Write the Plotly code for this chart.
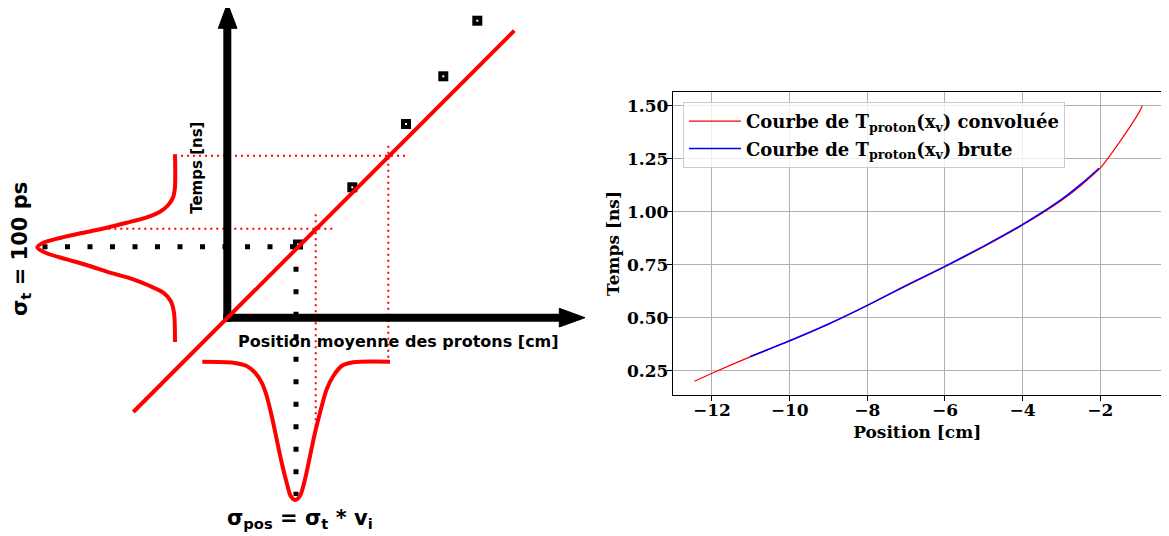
import plotly.graph_objects as go

# ---------------- Right panel data ----------------
pos_conv = [-12.45, -12.0, -11.0, -10.0, -9.0, -8.0, -7.0, -6.0, -5.0, -4.0, -3.0, -2.5, -2.0, -1.5, -1.0, -0.92]
t_conv = [0.200, 0.238, 0.316, 0.390, 0.469, 0.557, 0.650, 0.740, 0.835, 0.937, 1.053, 1.124, 1.207, 1.330, 1.470, 1.500]
pos_brute = [-11.02, -10.0, -9.0, -8.0, -7.0, -6.0, -5.0, -4.0, -3.0, -2.5, -2.03]
t_brute = [0.316, 0.391, 0.470, 0.558, 0.652, 0.742, 0.838, 0.940, 1.058, 1.130, 1.205]
x_ticks = [-12, -10, -8, -6, -4, -2]
x_tick_labels = ["\u221212", "\u221210", "\u22128", "\u22126", "\u22124", "\u22122"]
y_ticks = [0.25, 0.50, 0.75, 1.00, 1.25, 1.50]
y_tick_labels = ["0.25", "0.50", "0.75", "1.00", "1.25", "1.50"]
legend_conv = "Courbe de T<sub>proton</sub>(x<sub>v</sub>) convoluée"
legend_brute = "Courbe de T<sub>proton</sub>(x<sub>v</sub>) brute"

# ---------------- Left schematic data (pixel-like units) ----------------
diag_x = [133.3, 514.3]
diag_y = [412.0, 30.7]
square_x = [298.0, 352.3, 406.0, 443.3, 477.3]
square_y = [244.5, 187.3, 124.0, 76.3, 20.7]
vaxis_x = [227.3, 227.3]
vaxis_y = [321.7, 27.0]
haxis_x = [223.3, 561.0]
haxis_y = [317.7, 317.7]
varrow_x = [227.5, 218.3, 237.0, 227.5]
varrow_y = [3.3, 28.3, 28.3, 3.3]
harrow_x = [585.0, 559.3, 559.3, 585.0]
harrow_y = [317.7, 308.3, 327.0, 317.7]
gauss_t_x = [175, 175, 173.3, 168.3, 160, 146.7, 126.7, 106.7, 83.3, 60, 43.3, 37.3,
             46.7, 66.7, 88, 110, 133.3, 150, 163.3, 170.7, 174, 175]
gauss_t_y = [154.3, 186.7, 196.7, 205, 211.7, 217.3, 222.7, 227.7, 232.7, 238, 242.7, 247.3,
             253.3, 259.3, 265.5, 272.7, 279.3, 286, 292.7, 301, 312.7, 342]
gauss_p_x = [202.3, 233.3, 246.7, 255, 261.7, 266.7, 271.7, 276.7, 281.7, 286.7, 290.7, 295,
             300, 305, 310, 315, 320, 326.7, 333.3, 341.7, 353.3, 390]
gauss_p_y = [361.7, 362.7, 366, 372.7, 382.7, 396, 416, 439.3, 462.7, 482.7, 496, 500,
             496, 479.3, 456, 432.7, 412.7, 389.3, 376, 366, 362.3, 361.7]
red_h_upper_x = [175.0, 406.7]
red_h_upper_y = [155.7, 155.7]
red_h_lower_x = [108.3, 334.3]
red_h_lower_y = [228.7, 228.7]
red_v_left_x = [315.7, 315.7]
red_v_left_y = [214.3, 429.3]
red_v_right_x = [388.3, 388.3]
red_v_right_y = [145.7, 361.7]
blk_h_x = [42.5, 300.0]
blk_h_y = [246.7, 246.7]
blk_v_x = [296.0, 296.0]
blk_v_y = [244.2, 496.0]

# The page body has an 8px margin: the figure starts at (8, 8) in the window.
OFF = 8
W, H = 1169 - OFF, 536 - OFF


def px_x(p):
    return (p - OFF) / W


def px_y(p):
    return 1 - (p - OFF) / H


fig = go.Figure()


def add_left(**kw):
    kw.setdefault("mode", "lines")
    fig.add_trace(go.Scatter(xaxis="x2", yaxis="y2", showlegend=False, hoverinfo="skip", **kw))


RED = "#ff0000"
for xs, ys in [(red_h_upper_x, red_h_upper_y), (red_h_lower_x, red_h_lower_y),
               (red_v_left_x, red_v_left_y), (red_v_right_x, red_v_right_y)]:
    add_left(x=xs, y=ys, line=dict(color=RED, width=2, dash="2px,4px"))
add_left(x=blk_h_x, y=blk_h_y, line=dict(color="black", width=5, dash="5px,17.5px"))
add_left(x=blk_v_x, y=blk_v_y, line=dict(color="black", width=5, dash="5px,17.5px"))
add_left(x=gauss_t_x, y=gauss_t_y, line=dict(color=RED, width=4, shape="spline", smoothing=0.8))
add_left(x=gauss_p_x, y=gauss_p_y, line=dict(color=RED, width=4, shape="spline", smoothing=0.8))
add_left(x=vaxis_x, y=vaxis_y, line=dict(color="black", width=8))
add_left(x=haxis_x, y=haxis_y, line=dict(color="black", width=8))
add_left(x=varrow_x, y=varrow_y, fill="toself", fillcolor="black", line=dict(color="black", width=1))
add_left(x=harrow_x, y=harrow_y, fill="toself", fillcolor="black", line=dict(color="black", width=1))
add_left(x=square_x, y=square_y, mode="markers",
         marker=dict(symbol="square", size=10, color="black", line=dict(width=0)))
add_left(x=square_x, y=square_y, mode="markers",
         marker=dict(symbol="square", size=2, color="white", line=dict(width=0)))
add_left(x=diag_x, y=diag_y, line=dict(color=RED, width=4))

# ---------------- Right panel ----------------
fig.add_trace(go.Scatter(x=pos_conv, y=t_conv, mode="lines", name=legend_conv, legendgroup="a",
                         line=dict(color="red", width=1.2, shape="spline", smoothing=0.6)))
fig.add_trace(go.Scatter(x=pos_brute, y=t_brute, mode="lines", name=legend_brute, legendgroup="b",
                         line=dict(color="blue", width=1.5, shape="spline", smoothing=0.6)))

SANS = dict(family="DejaVu Sans", color="black", weight="bold")
SERIF = dict(family="DejaVu Serif", color="black", weight="bold")

annotations = [
    dict(text="Temps [ns]", x=197.5, y=168.3, textangle=-90, font=dict(size=15, **SANS)),
    dict(text="σ<sub>t</sub> = 100 ps", x=21, y=249, textangle=-90, font=dict(size=21, **SANS)),
    dict(text="Position moyenne des protons [cm]", x=398.3, y=341, font=dict(size=16, **SANS)),
    dict(text="σ<sub>pos</sub> = σ<sub>t</sub> * v<sub>i</sub>", x=300, y=519, font=dict(size=21, **SANS)),
]
for a in annotations:
    a.update(xref="x2", yref="y2", showarrow=False, xanchor="center", yanchor="middle")

axis_common = dict(showline=True, linecolor="black", linewidth=1, mirror=True,
                   ticks="outside", ticklen=5, tickwidth=1, tickcolor="black",
                   showgrid=True, gridcolor="#b0b0b0", gridwidth=1, zeroline=False,
                   ticklabelstandoff=-5,
                   tickfont=dict(size=17, **SERIF))

fig.update_layout(
    width=W, height=H, autosize=False,
    margin=dict(l=0, r=0, t=0, b=0),
    paper_bgcolor="white", plot_bgcolor="white",
    xaxis=dict(domain=[px_x(672.7), px_x(1161.7)], range=[-13.01, -0.42],
               tickmode="array", tickvals=x_ticks, ticktext=x_tick_labels,
               title=dict(text="Position [cm]", font=dict(size=17, **SERIF), standoff=6),
               anchor="y", **axis_common),
    yaxis=dict(domain=[px_y(395), px_y(92)], range=[0.135, 1.565],
               tickmode="array", tickvals=y_ticks, ticktext=y_tick_labels,
               title=dict(text="Temps [ns]", font=dict(size=17, **SERIF), standoff=2),
               anchor="x", **axis_common),
    xaxis2=dict(domain=[0, px_x(600)], range=[OFF, 600], visible=False, anchor="y2"),
    yaxis2=dict(domain=[0, 1], range=[536, OFF], visible=False, anchor="x2"),
    legend=dict(x=px_x(683), y=px_y(102), xanchor="left", yanchor="top",
                bgcolor="rgba(255,255,255,0.8)", bordercolor="#cccccc", borderwidth=1,
                font=dict(size=18, **SERIF), tracegroupgap=1, itemwidth=52),
    annotations=annotations,
    showlegend=True,
)

fig.write_html("out.html")
